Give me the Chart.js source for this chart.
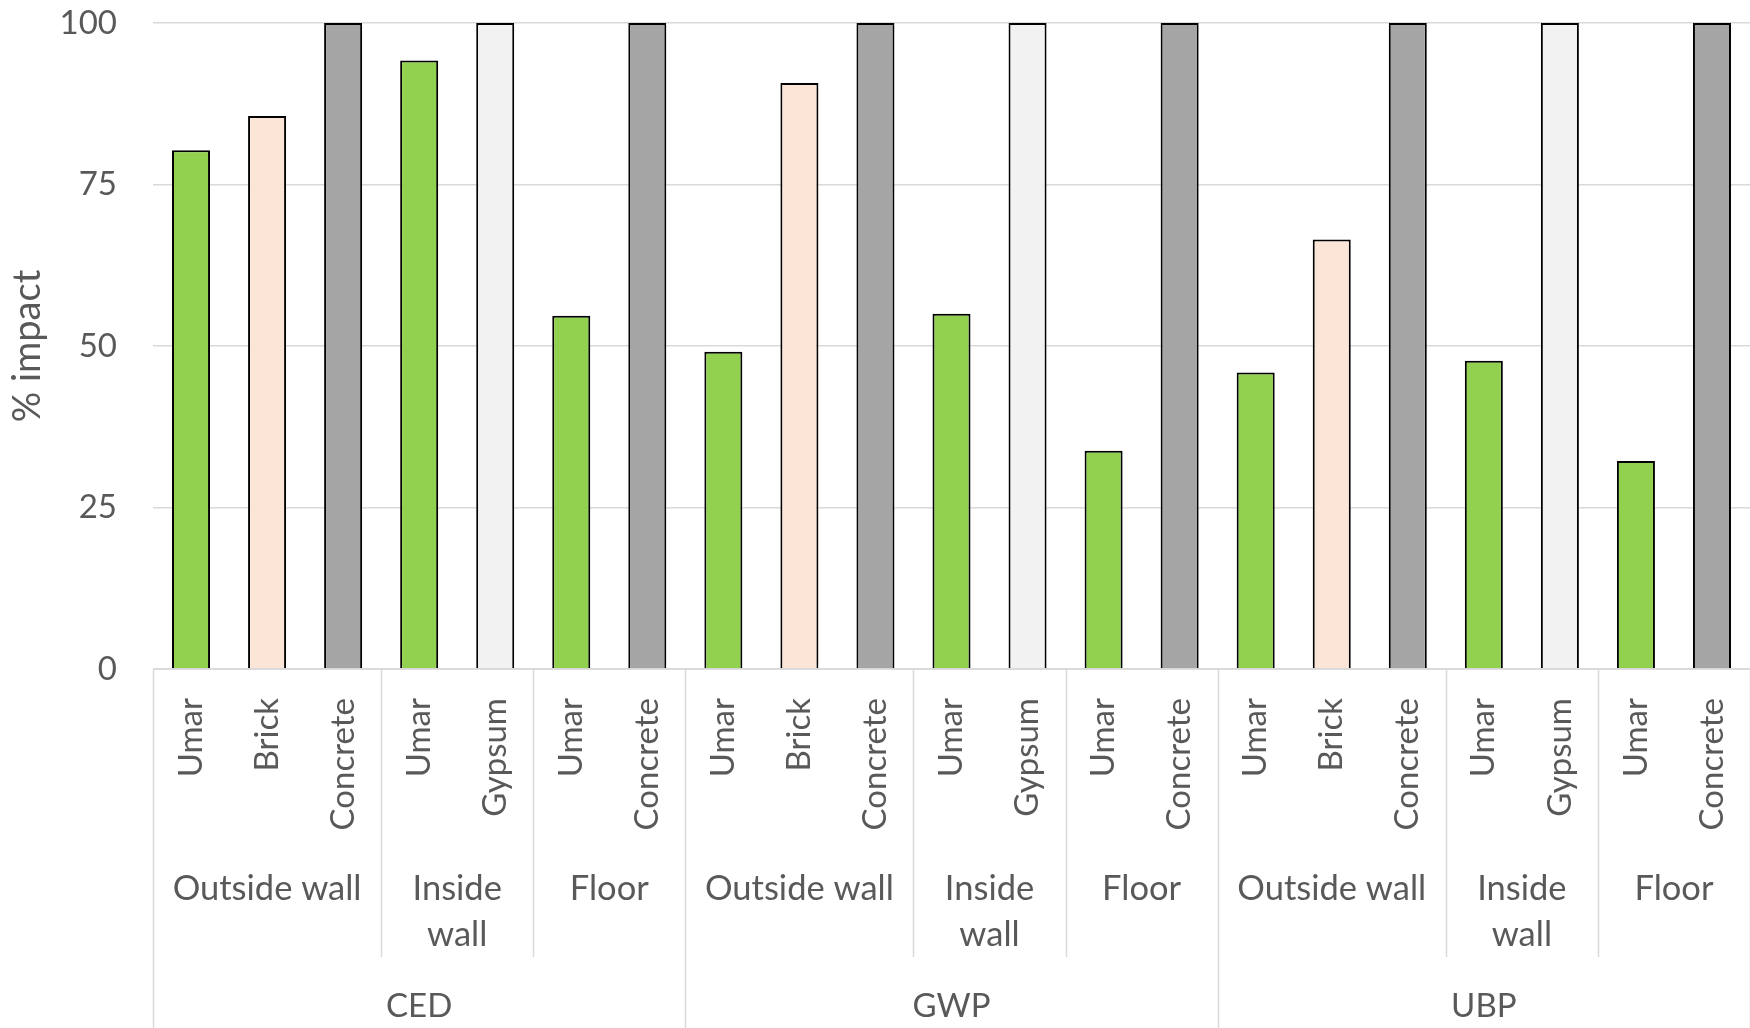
<!DOCTYPE html>
<html>
<head>
<meta charset="utf-8">
<script src="https://cdn.jsdelivr.net/npm/chart.js@4"></script>
<style>
  html, body { margin: 0; padding: 0; background: #ffffff; }
  #wrap { width: 1750px; height: 1028px; position: relative; }
</style>
</head>
<body>
<div id="wrap"><canvas id="chart"></canvas></div>
<script>
// Impact indicators (outer level of the category axis)
const indicators = ['CED', 'GWP', 'UBP'];
// Building elements (middle level); each entry holds the lines of its label
const elements = [['Outside wall'], ['Inside', 'wall'], ['Floor']];
// Materials compared within each element (inner level)
const elementMaterials = [
  ['Umar', 'Brick', 'Concrete'],
  ['Umar', 'Gypsum'],
  ['Umar', 'Concrete']
];
// % impact per material, in the same order as the materials above
const cedValues = [80.3, 85.6, 100, 94.2, 100, 54.7, 100];
const gwpValues = [49.1, 90.7, 100, 55.0, 100, 33.8, 100];
const ubpValues = [45.9, 66.5, 100, 47.7, 100, 32.2, 100];
// Y axis ticks
const yTicks = [0, 25, 50, 75, 100];
const yTitle = '% impact';

const materialColors = {
  Umar: '#92D050',
  Brick: '#FBE5D6',
  Concrete: '#A5A5A5',
  Gypsum: '#F2F2F2'
};

const TEXT = '#595959';
const GRID = '#D9D9D9';
const FONT = 'Lato, "Open Sans", sans-serif';
const FONT_SIZE = 33;
const GROUP_FONT_SIZE = 34.5;

// Flatten the three-level hierarchy into one category list
const seriesByIndicator = [cedValues, gwpValues, ubpValues];
const labels = [];
const values = [];
const colors = [];
const meta = [];
indicators.forEach((ind, i) => {
  let k = 0;
  elementMaterials.forEach((mats, e) => {
    mats.forEach(m => {
      labels.push([m, elements[e].join(' '), ind]);
      values.push(seriesByIndicator[i][k]);
      colors.push(materialColors[m]);
      meta.push({ material: m, element: e, indicator: i });
      k++;
    });
  });
});

// Draws the multi-level category axis: separators and the three label rows
const multiLevelAxis = {
  id: 'multiLevelAxis',
  afterDatasetsDraw(chart) {
    const { ctx, chartArea } = chart;
    const x = chart.scales.x;
    const n = labels.length;
    const step = (x.getPixelForValue(1) - x.getPixelForValue(0));
    const edge = i => x.getPixelForValue(i) - step / 2;
    const baseY = chartArea.bottom;

    ctx.save();
    // axis line along the zero level
    ctx.strokeStyle = GRID;
    ctx.lineWidth = 1.5;
    ctx.beginPath();
    ctx.moveTo(chartArea.left, baseY);
    ctx.lineTo(chartArea.right, baseY);
    ctx.stroke();

    // group boundaries
    const elemBottom = 957;
    const canvasBottom = chart.height;
    for (let i = 0; i <= n; i++) {
      let level = null;
      if (i === 0 || i === n || (i < n && meta[i].indicator !== meta[i - 1].indicator)) level = 3;
      else if (meta[i].element !== meta[i - 1].element) level = 2;
      if (!level) continue;
      const px = Math.round(edge(i)) + 0.5;
      ctx.beginPath();
      ctx.moveTo(px, baseY);
      ctx.lineTo(px, level === 3 ? canvasBottom : elemBottom);
      ctx.stroke();
    }

    ctx.fillStyle = TEXT;
    ctx.font = FONT_SIZE + 'px ' + FONT;

    // material names, rotated
    for (let i = 0; i < n; i++) {
      const cx = x.getPixelForValue(i);
      ctx.save();
      ctx.translate(cx, 698);
      ctx.rotate(-Math.PI / 2);
      ctx.textAlign = 'right';
      ctx.textBaseline = 'middle';
      ctx.fillText(meta[i].material, 0, 0);
      ctx.restore();
    }

    // element names
    ctx.font = GROUP_FONT_SIZE + 'px ' + FONT;
    ctx.textAlign = 'center';
    ctx.textBaseline = 'alphabetic';
    let start = 0;
    for (let i = 1; i <= n; i++) {
      if (i === n || meta[i].element !== meta[start].element || meta[i].indicator !== meta[start].indicator) {
        const cx = (edge(start) + edge(i)) / 2;
        const lines = elements[meta[start].element];
        lines.forEach((ln, li) => ctx.fillText(ln, cx, 900 + li * 45.5));
        start = i;
      }
    }

    // indicator names
    ctx.font = FONT_SIZE + 'px ' + FONT;
    start = 0;
    for (let i = 1; i <= n; i++) {
      if (i === n || meta[i].indicator !== meta[start].indicator) {
        const cx = (edge(start) + edge(i)) / 2;
        ctx.fillText(indicators[meta[start].indicator], cx, 1017);
        start = i;
      }
    }
    ctx.restore();
  }
};

new Chart(document.getElementById('chart'), {
  type: 'bar',
  data: {
    labels: labels,
    datasets: [{
      data: values,
      backgroundColor: colors,
      borderColor: '#000000',
      borderWidth: 2,
      barPercentage: 0.5,
      categoryPercentage: 1.0
    }]
  },
  options: {
    responsive: true,
    maintainAspectRatio: false,
    animation: false,
    layout: { padding: { top: 23, right: 0, bottom: 0, left: 0 } },
    plugins: {
      legend: { display: false },
      tooltip: { enabled: false }
    },
    scales: {
      x: {
        ticks: { display: false },
        grid: { display: false },
        border: { display: false },
        afterFit(scale) { scale.height = 359; }
      },
      y: {
        min: 0,
        max: 100,
        afterBuildTicks(scale) { scale.ticks = yTicks.map(v => ({ value: v })); },
        ticks: {
          color: TEXT,
          font: { family: FONT, size: FONT_SIZE },
          padding: 0
        },
        grid: { color: GRID, lineWidth: 1.5, drawTicks: true, tickLength: 36, tickColor: 'rgba(0,0,0,0)' },
        border: { display: false },
        title: {
          display: true,
          text: yTitle,
          color: TEXT,
          font: { family: FONT, size: 38 },
          padding: { top: 5, bottom: 0 }
        },
        afterFit(scale) { scale.width = 153; }
      }
    }
  },
  plugins: [multiLevelAxis]
});
</script>
</body>
</html>
